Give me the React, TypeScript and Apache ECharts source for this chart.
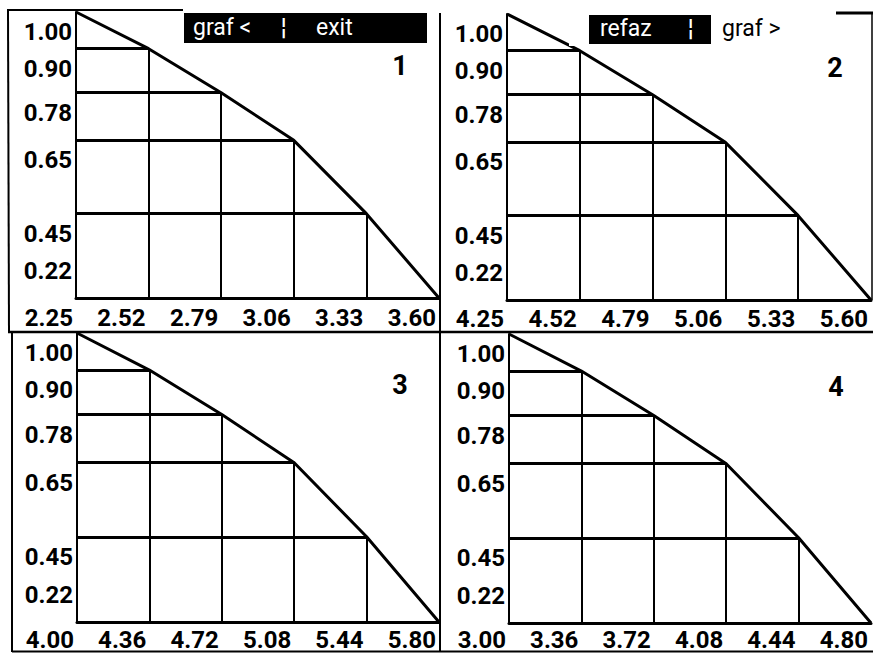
import React, { useEffect, useRef } from "react";
import * as echarts from "echarts";

// ---- data ----
const yValues = [1.0, 0.9, 0.78, 0.65, 0.45, 0.22];
const xTicks1 = [2.25, 2.52, 2.79, 3.06, 3.33, 3.6];
const xTicks2 = [4.25, 4.52, 4.79, 5.06, 5.33, 5.6];
const xTicks3 = [4.0, 4.36, 4.72, 5.08, 5.44, 5.8];
const xTicks4 = [3.0, 3.36, 3.72, 4.08, 4.44, 4.8];
const panelNames = ["1", "2", "3", "4"];
const menu1 = ["graf <", "¦", "exit"];
const menu2 = ["refaz", "¦", "graf >"];

const FONT = "Roboto, 'DejaVu Sans Condensed', 'Liberation Sans', sans-serif";
const LABEL_SIZE = 24;

const panels = [
  { xt: xTicks1, grid: { left: 76, top: 12, width: 363, height: 286 }, num: [400, 66], xMargin: 8 },
  { xt: xTicks2, grid: { left: 507, top: 14, width: 364, height: 286 }, num: [835, 68], xMargin: 7 },
  { xt: xTicks3, grid: { left: 77, top: 333, width: 362, height: 289 }, num: [400, 385], xMargin: 6 },
  { xt: xTicks4, grid: { left: 509, top: 334, width: 362, height: 289 }, num: [836, 387], xMargin: 5 },
];

function buildOption() {
  const yMin = yValues[yValues.length - 1];
  const yMax = yValues[0];
  const grids: any[] = [];
  const xAxes: any[] = [];
  const yAxes: any[] = [];
  const series: any[] = [];
  const graphics: any[] = [];

  panels.forEach((p, k) => {
    const xt = p.xt;
    grids.push({ ...p.grid, outerBoundsMode: "none", containLabel: false });
    xAxes.push({
      type: "value",
      gridIndex: k,
      min: xt[0],
      max: xt[xt.length - 1],
      splitLine: { show: false },
      axisTick: { show: false },
      axisLine: { show: true, lineStyle: { color: "#000", width: 3 } },
      axisLabel: {
        customValues: xt,
        formatter: (v: number) => v.toFixed(2),
        align: "right",
        margin: p.xMargin,
        padding: [0, 3, 0, 0],
        color: "#000",
        fontFamily: FONT,
        fontWeight: "bold",
        fontSize: LABEL_SIZE,
      },
    });
    yAxes.push({
      type: "value",
      gridIndex: k,
      min: yMin,
      max: yMax,
      splitLine: { show: false },
      axisTick: { show: false },
      axisLine: { show: true, lineStyle: { color: "#000", width: 2 } },
      axisLabel: {
        customValues: yValues,
        margin: 4,
        formatter: (v: number) => (v === yMin ? `{u|${v.toFixed(2)}}` : `{d|${v.toFixed(2)}}`),
        rich: {
          d: { padding: [40, 0, 0, 0], color: "#000", fontFamily: FONT, fontWeight: "bold", fontSize: LABEL_SIZE },
          u: { padding: [0, 0, 54, 0], color: "#000", fontFamily: FONT, fontWeight: "bold", fontSize: LABEL_SIZE },
        },
      },
    });
    // curve
    series.push({
      type: "line",
      xAxisIndex: k,
      yAxisIndex: k,
      data: xt.map((x, i) => [x, yValues[i]]),
      symbol: "none",
      lineStyle: { color: "#000", width: 3 },
      z: 5,
    });
    // horizontal drop lines
    series.push({
      type: "lines",
      coordinateSystem: "cartesian2d",
      xAxisIndex: k,
      yAxisIndex: k,
      data: yValues.slice(1, -1).map((y, j) => ({ coords: [[xt[0], y], [xt[j + 1], y]] })),
      lineStyle: { color: "#000", width: 3, opacity: 1, curveness: 0 },
      z: 3,
    });
    // vertical drop lines
    series.push({
      type: "lines",
      coordinateSystem: "cartesian2d",
      xAxisIndex: k,
      yAxisIndex: k,
      data: yValues.slice(1, -1).map((y, j) => ({ coords: [[xt[j + 1], y], [xt[j + 1], yMin]] })),
      lineStyle: { color: "#000", width: 2, opacity: 1, curveness: 0 },
      z: 3,
    });
    graphics.push({
      type: "text",
      x: p.num[0],
      y: p.num[1],
      z: 100,
      style: {
        text: panelNames[k],
        fill: "#000",
        font: `bold 27px ${FONT}`,
        align: "center",
        verticalAlign: "middle",
      },
    });
  });

  const ln = (x1: number, y1: number, x2: number, y2: number, w: number) => ({
    type: "line",
    z: 100,
    shape: { x1, y1, x2, y2 },
    style: { stroke: "#000", lineWidth: w },
  });
  // frame
  graphics.push(ln(7, 10, 183, 10, 2));
  graphics.push(ln(8, 10, 9, 332, 2));
  graphics.push(ln(12, 332, 12, 652, 2));
  graphics.push(ln(8, 332, 873, 332, 2.5));
  graphics.push(ln(440, 13, 440, 652, 2));
  graphics.push(ln(12, 651.5, 873, 651.5, 2));
  graphics.push(ln(836, 13, 873, 13, 3));
  graphics.push(ln(872, 13, 872, 300, 1.5));
  // panel 2: erased bit of the curve under the menu
  graphics.push({ type: "rect", z: 99, shape: { x: 569, y: 34, width: 12, height: 12 }, style: { fill: "#fff" } });

  const txt = (s: string, x: number, y: number, fill: string) => ({
    type: "text",
    x,
    y,
    z: 102,
    style: { text: s, fill, font: `23px ${FONT}`, verticalAlign: "middle", align: "left" },
  });
  // menu 1
  graphics.push({ type: "rect", z: 101, shape: { x: 184, y: 13, width: 243, height: 30 }, style: { fill: "#000" } });
  graphics.push(txt(menu1[0], 193, 27, "#fff"));
  graphics.push(txt(menu1[1], 281, 27, "#fff"));
  graphics.push(txt(menu1[2], 316, 27, "#fff"));
  // menu 2
  graphics.push({ type: "rect", z: 101, shape: { x: 589, y: 15, width: 122, height: 29 }, style: { fill: "#000" } });
  graphics.push(txt(menu2[0], 600, 28, "#fff"));
  graphics.push(txt(menu2[1], 688, 28, "#fff"));
  graphics.push(txt(menu2[2], 722, 28, "#000"));

  return {
    animation: false,
    backgroundColor: "#fff",
    grid: grids,
    xAxis: xAxes,
    yAxis: yAxes,
    series,
    graphic: { elements: graphics },
  };
}

export default function App() {
  const ref = useRef<HTMLDivElement>(null);
  useEffect(() => {
    document.body.style.margin = "0";
    const chart = echarts.init(ref.current as HTMLDivElement, null, { renderer: "svg" });
    chart.setOption(buildOption() as any);
    return () => chart.dispose();
  }, []);
  return (
    <div
      ref={ref}
      style={{ position: "absolute", left: 0, top: 0, width: 873, height: 653, background: "#fff" }}
    />
  );
}
